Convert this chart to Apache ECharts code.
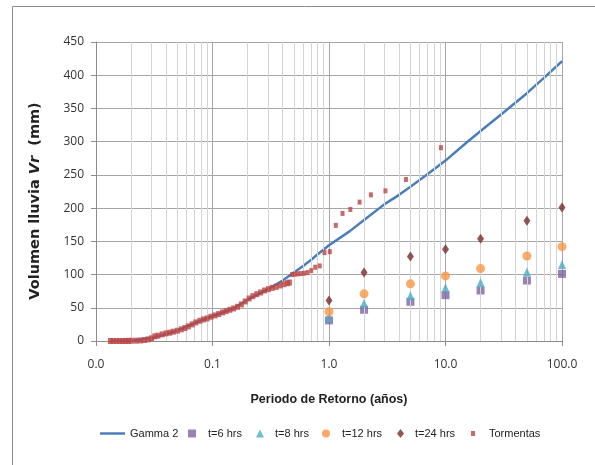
<!DOCTYPE html>
<html>
<head>
<meta charset="utf-8">
<script src="https://cdn.jsdelivr.net/npm/echarts@6/dist/echarts.min.js"></script>
<style>
html,body{margin:0;padding:0;background:#fff;}
#chart{width:595px;height:465px;}
</style>
</head>
<body>
<div id="chart"></div>
<script>
// Return periods for design storms (years)
const periods = [1, 2, 5, 10, 20, 50, 100];
const t6 = [31, 47, 59, 69, 76, 91, 101];
const t8 = [35, 57, 68, 80, 88, 104, 115];
const t12 = [44, 71, 86, 98, 109, 128, 142];
const t24 = [61, 103, 127, 138, 154, 181, 201];

// Gamma 2 fitted curve
const gammaT = [0.0133, 0.02, 0.03, 0.05, 0.07, 0.1, 0.15, 0.2, 0.25, 0.3, 0.4, 0.5, 0.6, 0.7, 0.8, 1, 1.5, 2, 3, 4, 5, 7, 10, 15, 20, 30, 50, 70, 100];
const gammaV = [0, 0.3, 4, 15.5, 27, 37.5, 48.5, 62, 71, 78, 91, 103, 113, 122, 130.5, 144, 165, 182, 206, 220, 232, 251, 271.5, 298, 316, 341, 373, 396, 421];

// Observed storms (Tormentas)
const tormT = [0.0133, 0.014, 0.015, 0.016, 0.017, 0.018, 0.019, 0.020, 0.022, 0.024, 0.026, 0.028, 0.030, 0.032, 0.034, 0.037, 0.040, 0.043, 0.046, 0.050, 0.054, 0.058, 0.062, 0.067, 0.072, 0.078, 0.084, 0.090, 0.097, 0.105, 0.113, 0.122, 0.131, 0.141, 0.152, 0.164, 0.177, 0.191, 0.206, 0.222, 0.240, 0.259, 0.280, 0.302, 0.326, 0.352, 0.380, 0.410, 0.440, 0.4575,
  0.4816, 0.5083, 0.538, 0.572, 0.610, 0.654, 0.704, 0.7625, 0.832, 0.915, 1.017, 1.144, 1.307, 1.525, 1.83, 2.29, 3.05, 4.575, 9.15];
const tormV = [0, 0, 0, 0, 0, 0.1, 0.2, 0.3, 0.5, 0.8, 1.5, 2.5, 4, 7, 8, 10, 11.5, 12.5, 14, 15.5, 17.5, 19.5, 22, 25, 28, 30.5, 32.5, 34, 36.5, 38.5, 40.5, 43, 45, 47, 49, 51.5, 55, 59.5, 64, 67.5, 70.5, 73, 76, 78, 80, 81.5, 83.5, 85.5, 87, 88,
  100, 100.5, 101, 101.5, 102, 103, 106, 111, 113, 133, 134.5, 174, 192, 198, 209, 220, 226, 243, 291];
const denseCount = 50; // first points form the dense band

const xTicks = [0.01, 0.1, 1, 10, 100];

const pairs = (xs, ys) => xs.map((x, i) => [x, ys[i]]);
const minorX = [];
for (let d = 0; d < xTicks.length - 1; d++) {
  for (let k = 2; k <= 9; k++) minorX.push(+(xTicks[d] * k).toPrecision(3));
}

const C = {
  gamma: '#4A7EBB', t6: '#8064A2', t8: '#4BACC6', t12: '#F79646', t24: '#7A2A2A', torm: '#BA4542'
};
const legFont = (pad) => ({fontFamily: '"Liberation Sans", Arial, sans-serif', fontSize: 11, color: '#222', padding: [0, 0, 0, pad]});

const chart = echarts.init(document.getElementById('chart'), null, {renderer: 'canvas'});
chart.setOption({
  animation: false,
  backgroundColor: '#fff',
  graphic: [{
    type: 'rect', shape: {x: 12.5, y: 6.5, width: 700, height: 700},
    style: {fill: 'none', stroke: '#8c8c8c', lineWidth: 1}, silent: true, z: -10
  }],
  grid: {left: 96, right: 33, top: 42, bottom: 124},
  xAxis: {
    type: 'log', logBase: 10, min: 0.01, max: 100,
    name: 'Periodo de Retorno (años)', nameLocation: 'middle', nameGap: 52,
    nameTextStyle: {fontFamily: '"Liberation Sans", Arial, sans-serif', fontWeight: 'bold', fontSize: 12.5, color: '#222'},
    axisLine: {show: true, lineStyle: {color: '#8c8c8c'}},
    axisTick: {show: true, length: 5, lineStyle: {color: '#8c8c8c'}},
    axisLabel: {margin: 18, fontFamily: '"Open Sans", sans-serif', fontSize: 12, color: '#333',
      formatter: v => Number(v).toFixed(1)},
    splitLine: {show: true, lineStyle: {color: '#a6a6a6', width: 1}},
    minorTick: {show: false}, minorSplitLine: {show: false}
  },
  yAxis: {
    type: 'value', min: 0, max: 450, interval: 50,
    name: '{a|Volumen lluvia }{b|Vr}{a|  (mm)}', nameLocation: 'middle', nameGap: 53,
    nameTextStyle: {
      padding: [0, 19, 0, 0],
      rich: {
        a: {fontFamily: '"DejaVu Sans", Verdana, sans-serif', fontWeight: 'bold', fontSize: 14.5, color: '#222'},
        b: {fontFamily: '"DejaVu Sans", Verdana, sans-serif', fontWeight: 'bold', fontStyle: 'italic', fontSize: 14.5, color: '#222'}
      }
    },
    axisLine: {show: true, lineStyle: {color: '#8c8c8c'}},
    axisTick: {show: true, length: 5, lineStyle: {color: '#8c8c8c'}},
    axisLabel: {margin: 12, fontFamily: '"Open Sans", sans-serif', fontSize: 12, color: '#333'},
    splitLine: {show: true, lineStyle: {color: '#a6a6a6', width: 1}}
  },
  legend: [
    {data: [{name: 'Gamma 2', icon: 'rect'}], left: 100, top: 428, padding: 0, itemWidth: 25, itemHeight: 2.5, textStyle: legFont(0)},
    {data: [{name: 't=6 hrs', icon: 'rect'}], left: 188, top: 428, padding: 0, itemWidth: 8, itemHeight: 8, textStyle: legFont(7)},
    {data: [{name: 't=8 hrs', icon: 'triangle'}], left: 256, top: 428, padding: 0, itemWidth: 8, itemHeight: 8, textStyle: legFont(6)},
    {data: [{name: 't=12 hrs', icon: 'circle'}], left: 322, top: 428, padding: 0, itemWidth: 8, itemHeight: 8, textStyle: legFont(7)},
    {data: [{name: 't=24 hrs', icon: 'diamond'}], left: 397, top: 428, padding: 0, itemWidth: 7, itemHeight: 9, textStyle: legFont(6)},
    {data: [{name: 'Tormentas', icon: 'rect'}], left: 471, top: 428, padding: 0, itemWidth: 4, itemHeight: 5, textStyle: legFont(9)}
  ],
  series: [
    {
      name: 'minor-grid', type: 'line', data: [], silent: true, z: 0,
      markLine: {
        silent: true, symbol: 'none', label: {show: false}, animation: false,
        lineStyle: {color: '#d4d4d4', width: 1, type: 'solid'},
        data: minorX.map(v => ({xAxis: v}))
      }
    },
    {
      name: 'Gamma 2', type: 'line', data: pairs(gammaT, gammaV), showSymbol: false, symbol: 'none',
      smooth: false, lineStyle: {color: C.gamma, width: 2.5}, itemStyle: {color: C.gamma}, z: 3
    },
    {name: 't=6 hrs', type: 'scatter', data: pairs(periods, t6), symbol: 'rect', symbolSize: 8,
      itemStyle: {color: C.t6}, z: 4},
    {name: 't=8 hrs', type: 'scatter', data: pairs(periods, t8), symbol: 'triangle', symbolSize: [8, 9],
      itemStyle: {color: C.t8}, z: 5},
    {name: 't=12 hrs', type: 'scatter', data: pairs(periods, t12), symbol: 'circle', symbolSize: 9,
      itemStyle: {color: C.t12}, z: 6},
    {name: 't=24 hrs', type: 'scatter', data: pairs(periods, t24), symbol: 'diamond', symbolSize: [7, 10],
      itemStyle: {color: C.t24}, z: 7},
    {name: 'Tormentas', type: 'scatter', data: pairs(tormT, tormV), symbol: 'rect',
      symbolSize: (v, p) => (p.dataIndex < denseCount ? [5, 6] : [4, 5]),
      itemStyle: {color: C.torm}, z: 8}
  ]
});
</script>
</body>
</html>
